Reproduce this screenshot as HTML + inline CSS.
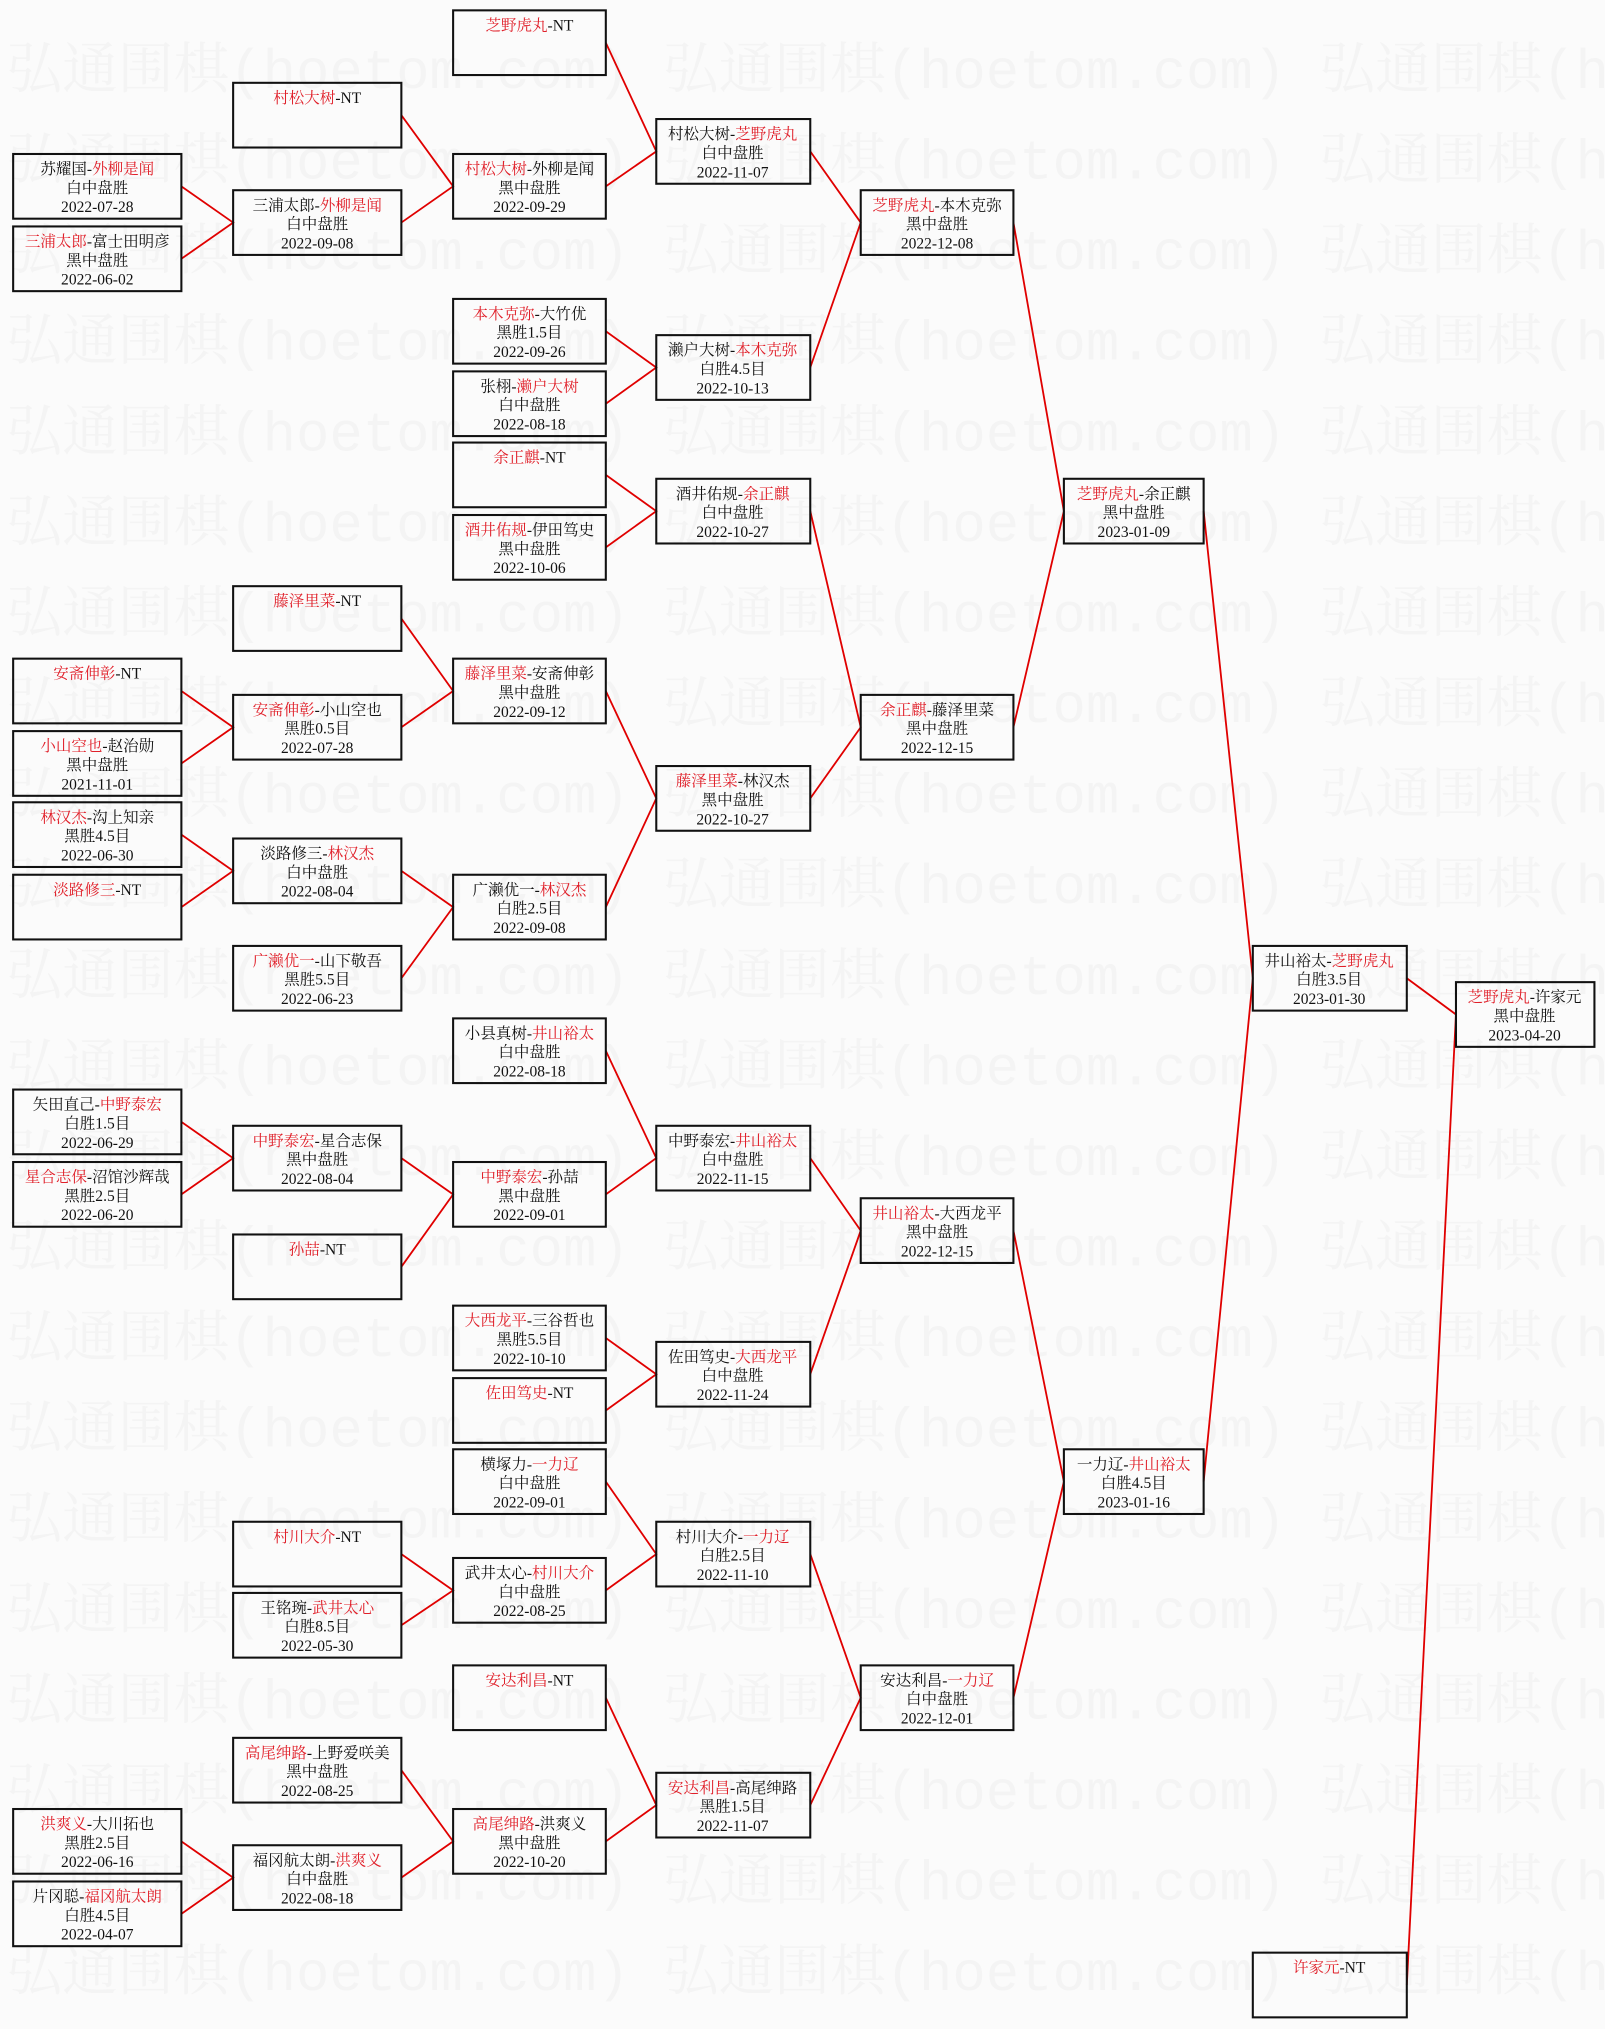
<!DOCTYPE html>
<html><head><meta charset="utf-8"><style>
html,body{margin:0;padding:0;background:#fbfbfb}
svg{display:block}
.t{font-family:"Liberation Serif","Noto Serif CJK SC",serif;font-size:12px;fill:#111;text-anchor:middle}
.r{fill:#e0202a}
.wm{font-family:"Liberation Mono","Noto Serif CJK SC",monospace;font-size:43px;fill:#f4f4f4}
rect{fill:none;stroke:#111;stroke-width:1.6}
path{fill:none;stroke:#e00000;stroke-width:1.4}
</style></head><body>
<svg width="1605" height="2029" viewBox="0 0 1240 1568" xmlns="http://www.w3.org/2000/svg">
<g>
<text class="wm" x="5" y="68">弘通围棋(hoetom.com) 弘通围棋(hoetom.com) 弘通围棋(hoetom.com)</text>
<text class="wm" x="5" y="138">弘通围棋(hoetom.com) 弘通围棋(hoetom.com) 弘通围棋(hoetom.com)</text>
<text class="wm" x="5" y="208">弘通围棋(hoetom.com) 弘通围棋(hoetom.com) 弘通围棋(hoetom.com)</text>
<text class="wm" x="5" y="278">弘通围棋(hoetom.com) 弘通围棋(hoetom.com) 弘通围棋(hoetom.com)</text>
<text class="wm" x="5" y="348">弘通围棋(hoetom.com) 弘通围棋(hoetom.com) 弘通围棋(hoetom.com)</text>
<text class="wm" x="5" y="418">弘通围棋(hoetom.com) 弘通围棋(hoetom.com) 弘通围棋(hoetom.com)</text>
<text class="wm" x="5" y="488">弘通围棋(hoetom.com) 弘通围棋(hoetom.com) 弘通围棋(hoetom.com)</text>
<text class="wm" x="5" y="558">弘通围棋(hoetom.com) 弘通围棋(hoetom.com) 弘通围棋(hoetom.com)</text>
<text class="wm" x="5" y="628">弘通围棋(hoetom.com) 弘通围棋(hoetom.com) 弘通围棋(hoetom.com)</text>
<text class="wm" x="5" y="698">弘通围棋(hoetom.com) 弘通围棋(hoetom.com) 弘通围棋(hoetom.com)</text>
<text class="wm" x="5" y="768">弘通围棋(hoetom.com) 弘通围棋(hoetom.com) 弘通围棋(hoetom.com)</text>
<text class="wm" x="5" y="838">弘通围棋(hoetom.com) 弘通围棋(hoetom.com) 弘通围棋(hoetom.com)</text>
<text class="wm" x="5" y="908">弘通围棋(hoetom.com) 弘通围棋(hoetom.com) 弘通围棋(hoetom.com)</text>
<text class="wm" x="5" y="978">弘通围棋(hoetom.com) 弘通围棋(hoetom.com) 弘通围棋(hoetom.com)</text>
<text class="wm" x="5" y="1048">弘通围棋(hoetom.com) 弘通围棋(hoetom.com) 弘通围棋(hoetom.com)</text>
<text class="wm" x="5" y="1118">弘通围棋(hoetom.com) 弘通围棋(hoetom.com) 弘通围棋(hoetom.com)</text>
<text class="wm" x="5" y="1188">弘通围棋(hoetom.com) 弘通围棋(hoetom.com) 弘通围棋(hoetom.com)</text>
<text class="wm" x="5" y="1258">弘通围棋(hoetom.com) 弘通围棋(hoetom.com) 弘通围棋(hoetom.com)</text>
<text class="wm" x="5" y="1328">弘通围棋(hoetom.com) 弘通围棋(hoetom.com) 弘通围棋(hoetom.com)</text>
<text class="wm" x="5" y="1398">弘通围棋(hoetom.com) 弘通围棋(hoetom.com) 弘通围棋(hoetom.com)</text>
<text class="wm" x="5" y="1468">弘通围棋(hoetom.com) 弘通围棋(hoetom.com) 弘通围棋(hoetom.com)</text>
<text class="wm" x="5" y="1538">弘通围棋(hoetom.com) 弘通围棋(hoetom.com) 弘通围棋(hoetom.com)</text>
</g>

<path d="M140,144 L180,172 L140,200"/>
<path d="M140,534 L180,562 L140,590"/>
<path d="M140,645 L180,673 L140,701"/>
<path d="M140,867 L180,895 L140,923"/>
<path d="M140,1423 L180,1451 L140,1479"/>
<path d="M310,89 L350,144 L310,172"/>
<path d="M310,478 L350,534 L310,562"/>
<path d="M310,673 L350,701 L310,756"/>
<path d="M310,895 L350,923 L310,979"/>
<path d="M310,1201 L350,1229 L310,1256"/>
<path d="M310,1368 L350,1423 L310,1451"/>
<path d="M468,33 L507,117 L468,144"/>
<path d="M468,256 L507,284 L468,312"/>
<path d="M468,367 L507,395 L468,423"/>
<path d="M468,534 L507,617 L468,701"/>
<path d="M468,812 L507,895 L468,923"/>
<path d="M468,1034 L507,1062 L468,1090"/>
<path d="M468,1145 L507,1201 L468,1229"/>
<path d="M468,1312 L507,1395 L468,1423"/>
<path d="M626,117 L665,172 L626,284"/>
<path d="M626,395 L665,562 L626,617"/>
<path d="M626,895 L665,951 L626,1062"/>
<path d="M626,1201 L665,1312 L626,1395"/>
<path d="M783,172 L822,395 L783,562"/>
<path d="M783,951 L822,1145 L783,1312"/>
<path d="M930,395 L968,756 L930,1145"/>
<path d="M1087,756 L1125,784 L1087,1534"/>

<rect x="10" y="119" width="130" height="50"/><text class="t" x="75" y="134.5">苏耀国-<tspan class="r">外柳是闻</tspan></text><text class="t" x="75" y="149">白中盘胜</text><text class="t" x="75" y="164">2022-07-28</text>
<rect x="10" y="175" width="130" height="50"/><text class="t" x="75" y="190.5"><tspan class="r">三浦太郎</tspan>-富士田明彦</text><text class="t" x="75" y="205">黑中盘胜</text><text class="t" x="75" y="220">2022-06-02</text>
<rect x="10" y="509" width="130" height="50"/><text class="t" x="75" y="524.5"><tspan class="r">安斋伸彰</tspan>-NT</text>
<rect x="10" y="565" width="130" height="50"/><text class="t" x="75" y="580.5"><tspan class="r">小山空也</tspan>-赵治勋</text><text class="t" x="75" y="595">黑中盘胜</text><text class="t" x="75" y="610">2021-11-01</text>
<rect x="10" y="620" width="130" height="50"/><text class="t" x="75" y="635.5"><tspan class="r">林汉杰</tspan>-沟上知亲</text><text class="t" x="75" y="650">黑胜4.5目</text><text class="t" x="75" y="665">2022-06-30</text>
<rect x="10" y="676" width="130" height="50"/><text class="t" x="75" y="691.5"><tspan class="r">淡路修三</tspan>-NT</text>
<rect x="10" y="842" width="130" height="50"/><text class="t" x="75" y="857.5">矢田直己-<tspan class="r">中野泰宏</tspan></text><text class="t" x="75" y="872">白胜1.5目</text><text class="t" x="75" y="887">2022-06-29</text>
<rect x="10" y="898" width="130" height="50"/><text class="t" x="75" y="913.5"><tspan class="r">星合志保</tspan>-沼馆沙辉哉</text><text class="t" x="75" y="928">黑胜2.5目</text><text class="t" x="75" y="943">2022-06-20</text>
<rect x="10" y="1398" width="130" height="50"/><text class="t" x="75" y="1413.5"><tspan class="r">洪爽义</tspan>-大川拓也</text><text class="t" x="75" y="1428">黑胜2.5目</text><text class="t" x="75" y="1443">2022-06-16</text>
<rect x="10" y="1454" width="130" height="50"/><text class="t" x="75" y="1469.5">片冈聪-<tspan class="r">福冈航太朗</tspan></text><text class="t" x="75" y="1484">白胜4.5目</text><text class="t" x="75" y="1499">2022-04-07</text>

<rect x="180" y="64" width="130" height="50"/><text class="t" x="245" y="79.5"><tspan class="r">村松大树</tspan>-NT</text>
<rect x="180" y="147" width="130" height="50"/><text class="t" x="245" y="162.5">三浦太郎-<tspan class="r">外柳是闻</tspan></text><text class="t" x="245" y="177">白中盘胜</text><text class="t" x="245" y="192">2022-09-08</text>
<rect x="180" y="453" width="130" height="50"/><text class="t" x="245" y="468.5"><tspan class="r">藤泽里菜</tspan>-NT</text>
<rect x="180" y="537" width="130" height="50"/><text class="t" x="245" y="552.5"><tspan class="r">安斋伸彰</tspan>-小山空也</text><text class="t" x="245" y="567">黑胜0.5目</text><text class="t" x="245" y="582">2022-07-28</text>
<rect x="180" y="648" width="130" height="50"/><text class="t" x="245" y="663.5">淡路修三-<tspan class="r">林汉杰</tspan></text><text class="t" x="245" y="678">白中盘胜</text><text class="t" x="245" y="693">2022-08-04</text>
<rect x="180" y="731" width="130" height="50"/><text class="t" x="245" y="746.5"><tspan class="r">广濑优一</tspan>-山下敬吾</text><text class="t" x="245" y="761">黑胜5.5目</text><text class="t" x="245" y="776">2022-06-23</text>
<rect x="180" y="870" width="130" height="50"/><text class="t" x="245" y="885.5"><tspan class="r">中野泰宏</tspan>-星合志保</text><text class="t" x="245" y="900">黑中盘胜</text><text class="t" x="245" y="915">2022-08-04</text>
<rect x="180" y="954" width="130" height="50"/><text class="t" x="245" y="969.5"><tspan class="r">孙喆</tspan>-NT</text>
<rect x="180" y="1176" width="130" height="50"/><text class="t" x="245" y="1191.5"><tspan class="r">村川大介</tspan>-NT</text>
<rect x="180" y="1231" width="130" height="50"/><text class="t" x="245" y="1246.5">王铭琬-<tspan class="r">武井太心</tspan></text><text class="t" x="245" y="1261">白胜8.5目</text><text class="t" x="245" y="1276">2022-05-30</text>
<rect x="180" y="1343" width="130" height="50"/><text class="t" x="245" y="1358.5"><tspan class="r">高尾绅路</tspan>-上野爱咲美</text><text class="t" x="245" y="1373">黑中盘胜</text><text class="t" x="245" y="1388">2022-08-25</text>
<rect x="180" y="1426" width="130" height="50"/><text class="t" x="245" y="1441.5">福冈航太朗-<tspan class="r">洪爽义</tspan></text><text class="t" x="245" y="1456">白中盘胜</text><text class="t" x="245" y="1471">2022-08-18</text>

<rect x="350" y="8" width="118" height="50"/><text class="t" x="409" y="23.5"><tspan class="r">芝野虎丸</tspan>-NT</text>
<rect x="350" y="119" width="118" height="50"/><text class="t" x="409" y="134.5"><tspan class="r">村松大树</tspan>-外柳是闻</text><text class="t" x="409" y="149">黑中盘胜</text><text class="t" x="409" y="164">2022-09-29</text>
<rect x="350" y="231" width="118" height="50"/><text class="t" x="409" y="246.5"><tspan class="r">本木克弥</tspan>-大竹优</text><text class="t" x="409" y="261">黑胜1.5目</text><text class="t" x="409" y="276">2022-09-26</text>
<rect x="350" y="287" width="118" height="50"/><text class="t" x="409" y="302.5">张栩-<tspan class="r">濑户大树</tspan></text><text class="t" x="409" y="317">白中盘胜</text><text class="t" x="409" y="332">2022-08-18</text>
<rect x="350" y="342" width="118" height="50"/><text class="t" x="409" y="357.5"><tspan class="r">余正麒</tspan>-NT</text>
<rect x="350" y="398" width="118" height="50"/><text class="t" x="409" y="413.5"><tspan class="r">酒井佑规</tspan>-伊田笃史</text><text class="t" x="409" y="428">黑中盘胜</text><text class="t" x="409" y="443">2022-10-06</text>
<rect x="350" y="509" width="118" height="50"/><text class="t" x="409" y="524.5"><tspan class="r">藤泽里菜</tspan>-安斋伸彰</text><text class="t" x="409" y="539">黑中盘胜</text><text class="t" x="409" y="554">2022-09-12</text>
<rect x="350" y="676" width="118" height="50"/><text class="t" x="409" y="691.5">广濑优一-<tspan class="r">林汉杰</tspan></text><text class="t" x="409" y="706">白胜2.5目</text><text class="t" x="409" y="721">2022-09-08</text>
<rect x="350" y="787" width="118" height="50"/><text class="t" x="409" y="802.5">小县真树-<tspan class="r">井山裕太</tspan></text><text class="t" x="409" y="817">白中盘胜</text><text class="t" x="409" y="832">2022-08-18</text>
<rect x="350" y="898" width="118" height="50"/><text class="t" x="409" y="913.5"><tspan class="r">中野泰宏</tspan>-孙喆</text><text class="t" x="409" y="928">黑中盘胜</text><text class="t" x="409" y="943">2022-09-01</text>
<rect x="350" y="1009" width="118" height="50"/><text class="t" x="409" y="1024.5"><tspan class="r">大西龙平</tspan>-三谷哲也</text><text class="t" x="409" y="1039">黑胜5.5目</text><text class="t" x="409" y="1054">2022-10-10</text>
<rect x="350" y="1065" width="118" height="50"/><text class="t" x="409" y="1080.5"><tspan class="r">佐田笃史</tspan>-NT</text>
<rect x="350" y="1120" width="118" height="50"/><text class="t" x="409" y="1135.5">横塚力-<tspan class="r">一力辽</tspan></text><text class="t" x="409" y="1150">白中盘胜</text><text class="t" x="409" y="1165">2022-09-01</text>
<rect x="350" y="1204" width="118" height="50"/><text class="t" x="409" y="1219.5">武井太心-<tspan class="r">村川大介</tspan></text><text class="t" x="409" y="1234">白中盘胜</text><text class="t" x="409" y="1249">2022-08-25</text>
<rect x="350" y="1287" width="118" height="50"/><text class="t" x="409" y="1302.5"><tspan class="r">安达利昌</tspan>-NT</text>
<rect x="350" y="1398" width="118" height="50"/><text class="t" x="409" y="1413.5"><tspan class="r">高尾绅路</tspan>-洪爽义</text><text class="t" x="409" y="1428">黑中盘胜</text><text class="t" x="409" y="1443">2022-10-20</text>

<rect x="507" y="92" width="119" height="50"/><text class="t" x="566" y="107.5">村松大树-<tspan class="r">芝野虎丸</tspan></text><text class="t" x="566" y="122">白中盘胜</text><text class="t" x="566" y="137">2022-11-07</text>
<rect x="507" y="259" width="119" height="50"/><text class="t" x="566" y="274.5">濑户大树-<tspan class="r">本木克弥</tspan></text><text class="t" x="566" y="289">白胜4.5目</text><text class="t" x="566" y="304">2022-10-13</text>
<rect x="507" y="370" width="119" height="50"/><text class="t" x="566" y="385.5">酒井佑规-<tspan class="r">余正麒</tspan></text><text class="t" x="566" y="400">白中盘胜</text><text class="t" x="566" y="415">2022-10-27</text>
<rect x="507" y="592" width="119" height="50"/><text class="t" x="566" y="607.5"><tspan class="r">藤泽里菜</tspan>-林汉杰</text><text class="t" x="566" y="622">黑中盘胜</text><text class="t" x="566" y="637">2022-10-27</text>
<rect x="507" y="870" width="119" height="50"/><text class="t" x="566" y="885.5">中野泰宏-<tspan class="r">井山裕太</tspan></text><text class="t" x="566" y="900">白中盘胜</text><text class="t" x="566" y="915">2022-11-15</text>
<rect x="507" y="1037" width="119" height="50"/><text class="t" x="566" y="1052.5">佐田笃史-<tspan class="r">大西龙平</tspan></text><text class="t" x="566" y="1067">白中盘胜</text><text class="t" x="566" y="1082">2022-11-24</text>
<rect x="507" y="1176" width="119" height="50"/><text class="t" x="566" y="1191.5">村川大介-<tspan class="r">一力辽</tspan></text><text class="t" x="566" y="1206">白胜2.5目</text><text class="t" x="566" y="1221">2022-11-10</text>
<rect x="507" y="1370" width="119" height="50"/><text class="t" x="566" y="1385.5"><tspan class="r">安达利昌</tspan>-高尾绅路</text><text class="t" x="566" y="1400">黑胜1.5目</text><text class="t" x="566" y="1415">2022-11-07</text>

<rect x="665" y="147" width="118" height="50"/><text class="t" x="724" y="162.5"><tspan class="r">芝野虎丸</tspan>-本木克弥</text><text class="t" x="724" y="177">黑中盘胜</text><text class="t" x="724" y="192">2022-12-08</text>
<rect x="665" y="537" width="118" height="50"/><text class="t" x="724" y="552.5"><tspan class="r">余正麒</tspan>-藤泽里菜</text><text class="t" x="724" y="567">黑中盘胜</text><text class="t" x="724" y="582">2022-12-15</text>
<rect x="665" y="926" width="118" height="50"/><text class="t" x="724" y="941.5"><tspan class="r">井山裕太</tspan>-大西龙平</text><text class="t" x="724" y="956">黑中盘胜</text><text class="t" x="724" y="971">2022-12-15</text>
<rect x="665" y="1287" width="118" height="50"/><text class="t" x="724" y="1302.5">安达利昌-<tspan class="r">一力辽</tspan></text><text class="t" x="724" y="1317">白中盘胜</text><text class="t" x="724" y="1332">2022-12-01</text>

<rect x="822" y="370" width="108" height="50"/><text class="t" x="876" y="385.5"><tspan class="r">芝野虎丸</tspan>-余正麒</text><text class="t" x="876" y="400">黑中盘胜</text><text class="t" x="876" y="415">2023-01-09</text>
<rect x="822" y="1120" width="108" height="50"/><text class="t" x="876" y="1135.5">一力辽-<tspan class="r">井山裕太</tspan></text><text class="t" x="876" y="1150">白胜4.5目</text><text class="t" x="876" y="1165">2023-01-16</text>

<rect x="968" y="731" width="119" height="50"/><text class="t" x="1027" y="746.5">井山裕太-<tspan class="r">芝野虎丸</tspan></text><text class="t" x="1027" y="761">白胜3.5目</text><text class="t" x="1027" y="776">2023-01-30</text>
<rect x="968" y="1509" width="119" height="50"/><text class="t" x="1027" y="1524.5"><tspan class="r">许家元</tspan>-NT</text>

<rect x="1125" y="759" width="107" height="50"/><text class="t" x="1178" y="774.5"><tspan class="r">芝野虎丸</tspan>-许家元</text><text class="t" x="1178" y="789">黑中盘胜</text><text class="t" x="1178" y="804">2023-04-20</text>
</svg>
</body></html>
